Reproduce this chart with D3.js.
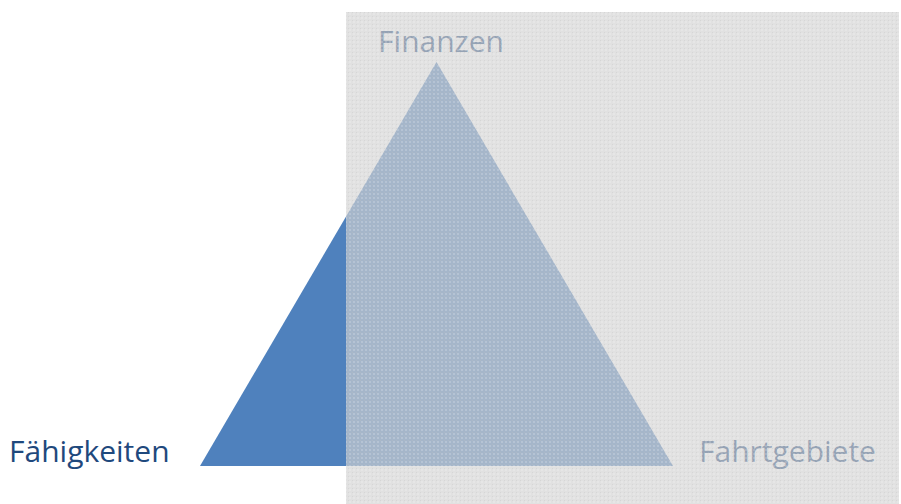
<!DOCTYPE html>
<html><head><meta charset="utf-8">
<script src="https://cdn.jsdelivr.net/npm/d3@7"></script>
<style>html,body{margin:0;padding:0;background:#fff;overflow:hidden}</style>
</head><body>
<svg id="c" width="901" height="504"></svg>
<script>
const categories = ["Finanzen", "Fähigkeiten", "Fahrtgebiete"];
const xValues = [50, 0, 100];
const yValues = [100, 0, 0];

const svg = d3.select("#c");
const x = d3.scaleLinear().domain([0, 100]).range([200, 673]);
const y = d3.scaleLinear().domain([0, 100]).range([466, 62]);

const pts = categories.map((c, i) => ({ name: c, x: xValues[i], y: yValues[i] }));

svg.append("path")
  .attr("d", d3.line().x(d => x(d.x)).y(d => y(d.y))(pts) + "Z")
  .attr("fill", "#4f81bd");

const font = "'Open Sans', Lato, sans-serif";
const fs = 30;
svg.append("text").text(categories[1]).attr("x", 9).attr("y", 462)
  .attr("font-family", font).attr("font-size", fs).attr("fill", "#1f497d");
svg.append("text").text(categories[0]).attr("x", 441).attr("y", 52)
  .attr("text-anchor", "middle")
  .attr("font-family", font).attr("font-size", fs).attr("fill", "#1f497d");
svg.append("text").text(categories[2]).attr("x", 699).attr("y", 462)
  .attr("font-family", font).attr("font-size", fs).attr("fill", "#1f497d");

// textured overlay
const defs = svg.append("defs");
const pat = defs.append("pattern").attr("id", "tex").attr("width", 4).attr("height", 4)
  .attr("patternUnits", "userSpaceOnUse");
pat.append("rect").attr("width", 4).attr("height", 4).attr("fill", "rgba(210,210,210,0.66)");
pat.append("rect").attr("x", 1).attr("y", 1).attr("width", 2).attr("height", 2).attr("fill", "rgba(255,255,255,0.18)");
pat.append("rect").attr("x", 0).attr("y", 0).attr("width", 1).attr("height", 1).attr("fill", "rgba(190,190,190,0.3)");

svg.append("rect").attr("x", 346).attr("y", 12).attr("width", 553).attr("height", 492)
  .attr("fill", "url(#tex)");
</script>
</body></html>
